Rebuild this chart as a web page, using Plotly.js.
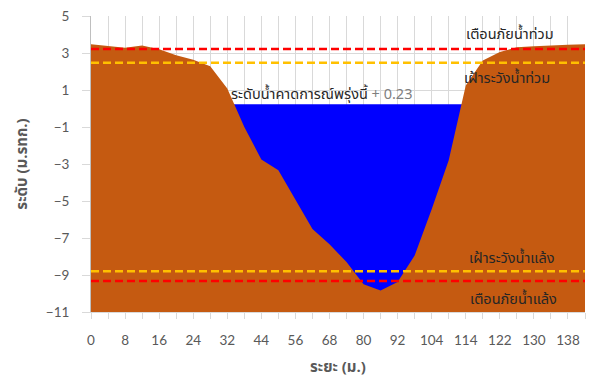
<!DOCTYPE html>
<html>
<head>
<meta charset="utf-8">
<script src="https://cdn.plot.ly/plotly-3.0.1.min.js"></script>
<style>html,body{margin:0;padding:0;background:#fff;}#chart{width:590px;height:379px;}</style>
</head>
<body>
<div id="chart"></div>
<script>
// Distance categories (m.)
const distances = ["0","4","8","12","16","20","24","28","32","38","44","50","56","62","68","74","80","86","92","98","104","109","114","118","122","126","130","134","138","142"];
// Labels shown on the axis (every other category)
const tickLabels = ["0","","8","","16","","24","","32","","44","","56","","68","","80","","92","","104","","114","","122","","130","","138",""];
// Ground elevation (m. MSL)
const groundLevel = [3.47,3.38,3.28,3.40,3.20,2.88,2.64,2.28,1.08,-1.00,-2.76,-3.34,-4.95,-6.52,-7.34,-8.30,-9.50,-9.84,-9.38,-7.94,-5.45,-2.80,1.25,2.60,3.06,3.31,3.36,3.42,3.45,3.47];
// Forecast water level tomorrow
const waterLevel = 0.23;
// Threshold levels
const floodWarning = 3.22;
const floodWatch = 2.47;
const droughtWatch = -8.80;
const droughtWarning = -9.32;
const axisBottom = -11;

const thaiFont = "Tahoma, 'Noto Sans Thai', 'Noto Sans', sans-serif";
const n = distances.length;
const constant = v => distances.map(() => v);

const hidden = {type:'scatter', mode:'lines', line:{width:0, color:'rgba(0,0,0,0)'}, hoverinfo:'skip', showlegend:false};
const traces = [
  Object.assign({}, hidden, {x:distances, y:constant(axisBottom)}),
  {type:'scatter', mode:'lines', x:distances, y:constant(waterLevel), fill:'tonexty', fillcolor:'#0000FF', line:{width:0, color:'#0000FF'}, showlegend:false},
  Object.assign({}, hidden, {x:distances, y:constant(axisBottom)}),
  {type:'scatter', mode:'lines', x:distances, y:groundLevel, fill:'tonexty', fillcolor:'#C55A11', line:{width:0, color:'#C55A11'}, showlegend:false},
  {type:'scatter', mode:'lines', x:distances, y:constant(floodWarning), line:{color:'#FF0000', width:2.5, dash:'8px,4px'}, showlegend:false},
  {type:'scatter', mode:'lines', x:distances, y:constant(floodWatch), line:{color:'#FFC000', width:2.5, dash:'8px,4px'}, showlegend:false},
  {type:'scatter', mode:'lines', x:distances, y:constant(droughtWatch), line:{color:'#FFC000', width:2.5, dash:'8px,4px'}, showlegend:false},
  {type:'scatter', mode:'lines', x:distances, y:constant(droughtWarning), line:{color:'#FF0000', width:2.5, dash:'8px,4px'}, showlegend:false}
];

const yTicks = [];
for (let v = -11; v <= 5; v += 2) yTicks.push(v);

const ann = (text, x, y) => ({text:text, xref:'paper', yref:'paper', x:x, y:y, xanchor:'center', yanchor:'middle', showarrow:false, font:{family:thaiFont, size:14.5, color:'#262626'}});
const px = p => (p - 91) / 494;
const py = p => 1 - (p - 15.7) / 296;

const layout = {
  width:590, height:379,
  margin:{l:91, r:5, t:16, b:67},
  paper_bgcolor:'#fff', plot_bgcolor:'#fff',
  showlegend:false,
  xaxis:{type:'category', range:[0, n-1], tickmode:'array', tickvals:distances, ticktext:tickLabels,
    showgrid:true, gridcolor:'#d9d9d9', gridwidth:1, ticks:'outside', ticklen:6, tickcolor:'#d9d9d9',
    showline:true, linecolor:'#d9d9d9', ticklabelstandoff:10,
    tickfont:{family:'Lato, Carlito, sans-serif', size:13.5, color:'#595959'},
    title:{text:'ระยะ (ม.)', font:{family:thaiFont, size:15, color:'#595959', weight:'bold'}, standoff:19}, zeroline:false, automargin:false},
  yaxis:{range:[-11, 5], tickmode:'array', tickvals:yTicks, showgrid:true, gridcolor:'#d9d9d9', gridwidth:1,
    ticks:'outside', ticklen:8, tickcolor:'#d9d9d9', showline:true, linecolor:'#bfbfbf', zeroline:false, ticklabelstandoff:10,
    tickfont:{family:'Lato, Carlito, sans-serif', size:13.5, color:'#595959'},
    title:{text:'ระดับ (ม.รทก.)', font:{family:thaiFont, size:15, color:'#595959', weight:'bold'}, standoff:14}, automargin:false},
  annotations:[
    ann('เตือนภัยน้ำท่วม', px(510), py(35)),
    ann('เฝ้าระวังน้ำท่วม', px(507), py(79)),
    ann('ระดับน้ำคาดการณ์พรุ่งนี้ <span style="color:#7f7f7f">+ 0.23</span>', px(321), py(95)),
    ann('เฝ้าระวังน้ำแล้ง', px(511), py(259)),
    ann('เตือนภัยน้ำแล้ง', px(513), py(300))
  ]
};

Plotly.newPlot('chart', traces, layout, {displayModeBar:false, staticPlot:true});
</script>
</body>
</html>
